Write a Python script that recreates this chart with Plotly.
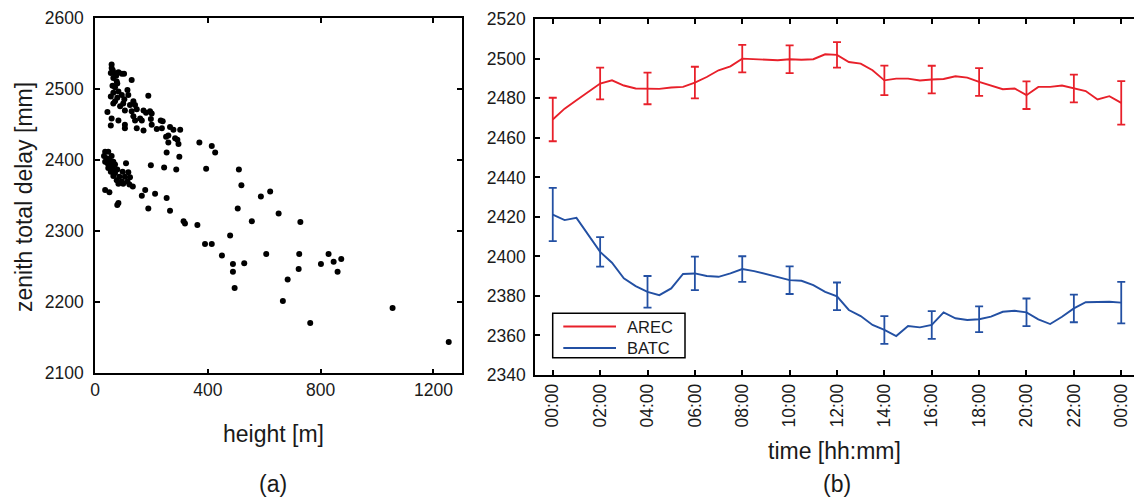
import plotly.graph_objects as go

# ---------------- Panel (a): scatter data ----------------
heights = [
    59, 59, 63, 56, 67, 83, 95, 103, 75, 65, 77, 130, 79, 62, 71, 115, 83, 65, 95, 118,
    189, 56, 79, 71, 104, 136, 65, 100, 124, 142, 89, 148, 172, 195, 106, 130, 44, 181, 201, 59,
    136, 160, 83, 142, 166, 198, 233, 240, 56, 106, 106, 148, 172, 201, 219, 237, 266, 278, 302, 260,
    252, 284, 292, 260, 296, 370, 414, 426, 254, 299,
    36, 47, 32, 59, 41, 51, 36, 65, 44, 56, 71, 110, 47, 63, 79, 56, 71, 98, 118, 65,
    86, 106, 124, 77, 95, 115, 83, 100, 122, 134, 198, 245, 288, 394, 510, 519, 36, 51, 178, 166,
    213, 254, 588, 621,
    79, 83, 189, 266, 506, 651, 556, 314, 319, 363, 479, 390, 414, 450, 607, 529, 489, 489, 495, 683,
    666, 728, 724, 722, 763, 801, 828, 846, 873, 860, 1055, 1254,
]
ztd = [
    2535, 2530, 2527, 2523, 2523, 2524, 2522, 2522, 2519, 2516, 2511, 2513, 2508, 2505, 2503, 2499, 2497, 2495, 2492, 2492,
    2491, 2490, 2488, 2483, 2486, 2483, 2480, 2480, 2478, 2478, 2476, 2472, 2470, 2469, 2470, 2469, 2468, 2467, 2466, 2459,
    2462, 2459, 2456, 2456, 2456, 2458, 2456, 2455, 2449, 2450, 2445, 2445, 2442, 2450, 2444, 2445, 2447, 2443, 2443, 2435,
    2433, 2431, 2429, 2425, 2423, 2425, 2420, 2411, 2411, 2405,
    2412, 2412, 2406, 2406, 2403, 2401, 2398, 2398, 2396, 2394, 2394, 2396, 2389, 2388, 2387, 2384, 2382, 2384, 2383, 2378,
    2377, 2377, 2376, 2372, 2370, 2370, 2367, 2367, 2366, 2363, 2393, 2390, 2387, 2388, 2387, 2365, 2358, 2355, 2358, 2350,
    2353, 2347, 2349, 2356,
    2337, 2340, 2332, 2329, 2332, 2325, 2314, 2314, 2311, 2309, 2294, 2282, 2282, 2266, 2268, 2255, 2254, 2243, 2220, 2232,
    2202, 2313, 2268, 2247, 2171, 2254, 2268, 2257, 2261, 2243, 2192, 2144,
]

# ---------------- Panel (b): time series ----------------
hours = [0, 0.5, 1, 1.5, 2, 2.5, 3, 3.5, 4, 4.5, 5, 5.5, 6, 6.5, 7, 7.5, 8, 8.5, 9, 9.5,
         10, 10.5, 11, 11.5, 12, 12.5, 13, 13.5, 14, 14.5, 15, 15.5, 16, 16.5, 17, 17.5,
         18, 18.5, 19, 19.5, 20, 20.5, 21, 21.5, 22, 22.5, 23, 23.5, 24]
arec = [2469.3, 2474.8, 2479.0, 2483.2, 2487.5, 2489.1, 2486.5, 2485.0, 2485.0, 2484.8,
        2485.5, 2485.8, 2488.0, 2490.8, 2494.2, 2496.2, 2500.1, 2499.8, 2499.3, 2499.3,
        2499.8, 2499.5, 2499.8, 2502.3, 2502.0, 2498.4, 2497.6, 2494.2, 2489.1, 2490.0,
        2490.0, 2489.0, 2489.5, 2489.8, 2491.2, 2490.5, 2488.3, 2486.5, 2484.6, 2485.0,
        2481.6, 2485.8, 2485.8, 2486.5, 2485.0, 2483.7, 2479.4, 2481.1, 2477.7]
batc = [2421.2, 2418.4, 2419.5, 2410.8, 2402.3, 2396.8, 2388.9, 2385.0, 2382.1, 2380.4,
        2383.8, 2391.1, 2391.4, 2390.1, 2389.7, 2391.4, 2393.6, 2392.6, 2391.1, 2389.4,
        2388.0, 2387.7, 2385.5, 2382.1, 2379.8, 2372.9, 2369.8, 2365.3, 2362.8, 2359.7,
        2364.8, 2364.1, 2365.3, 2371.7, 2368.7, 2367.8, 2368.2, 2369.5, 2372.0, 2372.5,
        2371.7, 2368.2, 2365.8, 2369.5, 2373.7, 2376.8, 2376.8, 2377.1, 2376.6]
err_hours = [0, 2, 4, 6, 8, 10, 12, 14, 16, 18, 20, 22, 24]
arec_err = [11, 8, 8, 8, 7, 7, 6.5, 7.5, 7, 7, 7, 7, 11]
batc_err = [13.5, 7.5, 8, 8.5, 6.5, 7, 7, 7, 7, 6.5, 7, 7, 10.5]
time_ticks = [0, 2, 4, 6, 8, 10, 12, 14, 16, 18, 20, 22, 24]
time_labels = ["00:00", "02:00", "04:00", "06:00", "08:00", "10:00", "12:00",
               "14:00", "16:00", "18:00", "20:00", "22:00", "00:00"]
series_names = ["AREC", "BATC"]

RED = "#e8202a"
BLUE = "#2350a3"
TXT = "#1a1a1a"
FONT = "Liberation Sans, Arial, sans-serif"

# The page body adds an 8px margin, so the figure is sized to fill the rest of the window
OFF = 8
W, H = 1142 - OFF, 497 - OFF


def fx(px):
    return (px - OFF) / W


def fy(py):
    return 1 - (py - OFF) / H


fig = go.Figure()
fig.add_trace(go.Scatter(x=heights, y=ztd, mode="markers",
                         marker=dict(color="black", size=6, line=dict(width=0)),
                         xaxis="x", yaxis="y", showlegend=False))
fig.add_trace(go.Scatter(x=hours, y=arec, mode="lines", name=series_names[0],
                         line=dict(color=RED, width=1.9), xaxis="x2", yaxis="y2", showlegend=False))
fig.add_trace(go.Scatter(x=hours, y=batc, mode="lines", name=series_names[1],
                         line=dict(color=BLUE, width=1.9), xaxis="x2", yaxis="y2", showlegend=False))
fig.add_trace(go.Scatter(x=err_hours, y=[arec[hours.index(h)] for h in err_hours],
                         mode="markers", marker=dict(size=1, opacity=0),
                         error_y=dict(type="data", array=arec_err, color=RED, thickness=1.8, width=4),
                         xaxis="x2", yaxis="y2", showlegend=False, hoverinfo="skip"))
fig.add_trace(go.Scatter(x=err_hours, y=[batc[hours.index(h)] for h in err_hours],
                         mode="markers", marker=dict(size=1, opacity=0),
                         error_y=dict(type="data", array=batc_err, color=BLUE, thickness=1.8, width=4),
                         xaxis="x2", yaxis="y2", showlegend=False, hoverinfo="skip"))

ax = dict(showline=True, linecolor="black", linewidth=1.5, mirror="ticks",
          ticks="inside", ticklen=5, tickwidth=1.5, tickcolor="black",
          showgrid=False, zeroline=False, automargin=False,
          tickfont=dict(family=FONT, size=17.5, color=TXT))

fig.update_layout(
    width=W, height=H, autosize=False,
    margin=dict(l=0, r=0, t=0, b=0, pad=0),
    paper_bgcolor="white", plot_bgcolor="white",
    font=dict(family=FONT, color=TXT),
    showlegend=False,
    xaxis=dict(ax, domain=[fx(95), fx(461.7)], range=[0, 1300], tickvals=[0, 400, 800, 1200], anchor="y"),
    yaxis=dict(ax, domain=[fy(373.3), fy(18.3)], range=[2100, 2600], dtick=100, anchor="x",
               ticklabelstandoff=6),
    xaxis2=dict(ax, domain=[fx(535), fx(1139)], range=[-0.75, 24.75], tickvals=time_ticks,
                ticktext=time_labels, tickangle=-90, anchor="y2"),
    yaxis2=dict(ax, domain=[fy(375), fy(19.3)], range=[2340, 2520], dtick=20, anchor="x2",
                ticklabelstandoff=4),
)

# legend box (drawn in paper space, bottom-left inside panel b)
fig.add_shape(type="rect", xref="paper", yref="paper",
              x0=fx(552.7), x1=fx(685), y0=fy(357.7), y1=fy(313.3),
              line=dict(color="black", width=1.5), fillcolor="white", layer="above")
for i, (name, col) in enumerate(zip(series_names, [RED, BLUE])):
    ly = 326.5 + i * 21.5
    fig.add_shape(type="line", xref="paper", yref="paper",
                  x0=fx(563.3), x1=fx(616), y0=fy(ly), y1=fy(ly),
                  line=dict(color=col, width=1.9), layer="above")
    fig.add_annotation(text=name, x=fx(625), y=fy(ly), xref="paper", yref="paper",
                       showarrow=False, xanchor="left", yanchor="middle",
                       font=dict(family=FONT, size=16.5, color=TXT))


def ann(text, px, py, size=23, angle=0):
    fig.add_annotation(text=text, x=fx(px), y=fy(py), xref="paper", yref="paper",
                       showarrow=False, textangle=angle, xanchor="center", yanchor="middle",
                       font=dict(family=FONT, size=size, color=TXT))


ann("zenith total delay [mm]", 24, 197, angle=-90)
ann("height [m]", 273, 434)
ann("time [hh:mm]", 834, 451)
ann("(a)", 273, 484)
ann("(b)", 837, 484)

fig.write_html("out.html")
